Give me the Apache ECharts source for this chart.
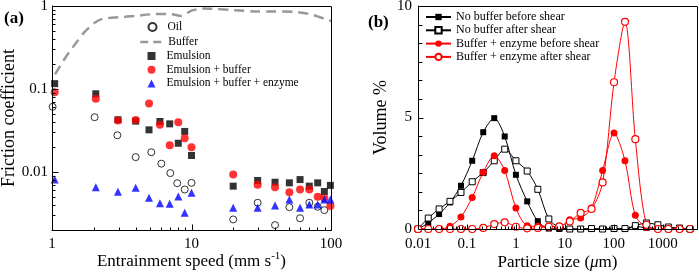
<!DOCTYPE html>
<html>
<head>
<meta charset="utf-8">
<script src="https://cdn.jsdelivr.net/npm/echarts@6/dist/echarts.min.js"></script>
<style>
html,body{margin:0;padding:0;background:#fff;}
#main{width:699px;height:273px;}
</style>
</head>
<body>
<div id="main"></div>
<script>
// (a) friction coefficient vs entrainment speed
var oilSpeed = [1.01, 2.02, 2.94, 3.98, 5.15, 6.08, 7.05, 7.9, 8.94, 10, 19.9, 29.8, 39.7, 50.3, 60, 69.9, 80.3, 89.6];
var oilMu = [0.061, 0.0457, 0.0277, 0.0151, 0.0173, 0.0126, 0.0097, 0.00733, 0.00615, 0.0074, 0.00268, 0.00426, 0.00229, 0.00377, 0.00277, 0.00426, 0.00381, 0.00347];
var bufferSpeed = [1.05, 1.25, 1.45, 1.7, 2.0, 2.3, 3.0, 4.0, 5.5, 7.0, 8.5, 10, 12, 15, 20, 30, 40, 55, 70, 80, 90, 100];
var bufferMu = [0.15, 0.24, 0.34, 0.48, 0.62, 0.7, 0.73, 0.76, 0.8, 0.8, 0.76, 0.88, 0.93, 0.92, 0.89, 0.86, 0.86, 0.85, 0.8, 0.75, 0.7, 0.66];
var speed = [1.045, 2.06, 2.97, 3.98, 4.96, 5.94, 6.98, 8.04, 8.94, 10, 19.9, 29.8, 39.7, 50.3, 60, 69.9, 80.3, 89.6, 99];
var emulsionMu = [0.116, 0.0875, 0.0426, 0.041, 0.0322, 0.0406, 0.038, 0.0222, 0.0308, 0.0158, 0.00675, 0.0079, 0.00753, 0.0074, 0.0081, 0.00675, 0.0074, 0.00582, 0.0069];
var emulsionBufferMu = [0.0915, 0.0762, 0.0417, 0.0424, 0.0669, 0.037, 0.021, 0.0398, 0.0255, 0.0199, 0.00933, 0.00701, 0.00656, 0.00571, 0.00615, 0.00615, 0.00503, 0.00483, 0.0039];
var enzymeMu = [0.0081, 0.00656, 0.00577, 0.00645, 0.00489, 0.00421, 0.00414, 0.00507, 0.00322, 0.00561, 0.0037, 0.0037, 0.00395, 0.00467, 0.0037, 0.00406, 0.00406, 0.00467, 0.00467];

// (b) particle size distribution
var sizeX = [0.01, 0.0162, 0.027, 0.045, 0.0755, 0.128, 0.215, 0.361, 0.59, 1.0, 1.7, 2.8, 4.7, 7.7, 12.6, 21, 35, 59, 101, 169, 275, 464, 795, 1300, 2200, 3600];
var noBufBefore = [0, 0.27, 0.67, 1.19, 1.94, 3.06, 4.34, 4.97, 4.15, 2.43, 1.24, 0.35, 0.02, 0, 0, 0, 0, 0, 0, 0, 0.12, 0.05, 0.03, 0, 0.05, 0];
var noBufAfter = [0, 0.49, 0.9, 1.24, 1.64, 2.12, 2.53, 3.06, 3.58, 3.06, 2.6, 1.78, 0.45, 0.07, 0, 0, 0.02, 0, 0.02, 0.02, 0.15, 0.27, 0.19, 0.09, 0.04, 0];
var bufEnzBefore = [0, 0.02, 0, 0.12, 0.54, 1.41, 2.55, 3.28, 2.62, 0.94, 0.15, 0.12, 0.13, 0.1, 0.42, 0.49, 0.94, 2.62, 4.3, 3.06, 0.62, 0.07, 0, 0, 0, 0];
var bufEnzAfter = [0, 0, 0, 0, 0, 0, 0.05, 0.22, 0.3, 0.1, 0.03, 0.05, 0.1, 0.12, 0.34, 0.72, 0.9, 2.09, 6.58, 9.29, 4.03, 0.19, 0, 0, 0, 0];

// axis ranges and tick values
var aXRange = [1, 100];
var aYRange = [0.002, 1];
var bXRange = [0.01, 5000];
var bYRange = [0, 10];
var aXTicks = [1, 10, 100];
var aXMinor = [2, 3, 4, 5, 6, 7, 8, 9, 20, 30, 40, 50, 60, 70, 80, 90];
var aYTicks = [0.01, 0.1, 1];
var aYMinor = [0.002, 0.003, 0.004, 0.005, 0.006, 0.007, 0.008, 0.009, 0.02, 0.03, 0.04, 0.05, 0.06, 0.07, 0.08, 0.09, 0.2, 0.3, 0.4, 0.5, 0.6, 0.7, 0.8, 0.9];
var bXTicks = [0.01, 0.1, 1, 10, 100, 1000];
var bXMinor = [0.02, 0.03, 0.04, 0.05, 0.06, 0.07, 0.08, 0.09, 0.2, 0.3, 0.4, 0.5, 0.6, 0.7, 0.8, 0.9, 2, 3, 4, 5, 6, 7, 8, 9, 20, 30, 40, 50, 60, 70, 80, 90, 200, 300, 400, 500, 600, 700, 800, 900, 2000, 3000, 4000];
var bYTicks = [0, 5, 10];
var bYMinor = [0.833, 1.667, 2.5, 3.333, 4.167, 5.833, 6.667, 7.5, 8.333, 9.167];

var FONT = '"Liberation Serif", "Times New Roman", serif';

function pairs(xs, ys) {
    var out = [];
    for (var i = 0; i < xs.length; i++) {
        out.push([xs[i], ys[i]]);
    }
    return out;
}

function plainNum(v) {
    return String(+v.toPrecision(6));
}

function labelAxis(type, grid, range, ticks, margin, extra) {
    var ax = {
        type: type,
        gridIndex: grid,
        min: range[0],
        max: range[1],
        nameMoveOverlap: false,
        axisLine: {show: true, lineStyle: {color: '#000', width: 1}},
        axisTick: {show: false},
        axisLabel: {customValues: ticks, color: '#000', fontFamily: FONT, fontSize: 15, margin: margin, formatter: plainNum},
        splitLine: {show: false}
    };
    if (type === 'log') ax.logBase = 10;
    for (var k in extra) ax[k] = extra[k];
    return ax;
}

var panelLabels = [
    {type: 'text', left: 4, top: 10, style: {text: '(a)', fontSize: 17, fontWeight: 'bold', fontFamily: FONT, fill: '#000'}},
    {type: 'text', left: 368, top: 14, style: {text: '(b)', fontSize: 17, fontWeight: 'bold', fontFamily: FONT, fill: '#000'}}
];

var dom = document.getElementById('main');
var myChart = echarts.init(dom, null, {renderer: 'canvas'});

var option = {
    animation: false,
    backgroundColor: '#fff',
    textStyle: {fontFamily: FONT},
    grid: [
        {left: 52, top: 6, width: 279, height: 224, outerBoundsMode: 'none', containLabel: false},
        {left: 418, top: 6, width: 279, height: 223, outerBoundsMode: 'none', containLabel: false}
    ],
    graphic: panelLabels,
    legend: [
        {
            orient: 'vertical', left: 147.5, top: 21, padding: 0,
            itemWidth: 8, itemHeight: 8,
            textStyle: {fontFamily: FONT, fontSize: 11.5, color: '#000', padding: [0, 0, 0, 6]},
            data: ['Oil']
        },
        {
            orient: 'vertical', left: 139, top: 36, padding: 0,
            itemWidth: 25, itemHeight: 8,
            textStyle: {fontFamily: FONT, fontSize: 11.5, color: '#000', padding: [0, 0, 0, -2]},
            data: [{name: 'Buffer', itemStyle: {opacity: 0}, lineStyle: {color: '#999', width: 2.5, type: [8, 5]}}]
        },
        {
            orient: 'vertical', left: 147.5, top: 50, padding: 0,
            itemWidth: 8, itemHeight: 8, itemGap: 1.7,
            textStyle: {fontFamily: FONT, fontSize: 11.5, color: '#000', padding: [0, 0, 0, 6]},
            data: ['Emulsion', 'Emulsion + buffer', 'Emulsion + buffer + enzyme']
        },
        {
            orient: 'vertical', left: 425, top: 11, padding: 0,
            itemWidth: 25, itemHeight: 8, itemGap: 1.3,
            textStyle: {fontFamily: FONT, fontSize: 12, color: '#000'},
            data: ['No buffer before shear', 'No buffer after shear', 'Buffer + enzyme before shear', 'Buffer + enzyme after shear']
        }
    ],
    xAxis: [
        labelAxis('log', 0, aXRange, aXTicks, 7, {
            position: 'bottom',
            name: 'Entrainment speed (mm s{sup|-1})',
            nameLocation: 'middle',
            nameGap: 21,
            nameTextStyle: {fontFamily: FONT, fontSize: 17, color: '#000', lineHeight: 22,
                rich: {sup: {fontFamily: FONT, fontSize: 11, lineHeight: 12, verticalAlign: 'top', color: '#000'}}}
        }),
        labelAxis('log', 1, bXRange, bXTicks, 8, {
            position: 'bottom',
            name: 'Particle size ({it|μ}m)',
            nameLocation: 'middle',
            nameGap: 25,
            nameTextStyle: {fontFamily: FONT, fontSize: 17, color: '#000',
                rich: {it: {fontFamily: FONT, fontSize: 17, fontStyle: 'italic', color: '#000'}}}
        })
    ],
    yAxis: [
        labelAxis('log', 0, aYRange, aYTicks, 4, {
            position: 'left',
            name: 'Friction coefficient',
            nameLocation: 'middle',
            nameGap: 34,
            nameTextStyle: {fontFamily: FONT, fontSize: 18, color: '#000'}
        }),
        labelAxis('value', 1, bYRange, bYTicks, 6, {
            position: 'left',
            interval: 5,
            name: 'Volume %',
            nameLocation: 'middle',
            nameGap: 28,
            nameTextStyle: {fontFamily: FONT, fontSize: 18, color: '#000'}
        })
    ],
    series: [
        {
            name: 'Oil', type: 'scatter', xAxisIndex: 0, yAxisIndex: 0,
            symbol: 'circle', symbolSize: 7,
            itemStyle: {color: '#fff', borderColor: '#000', borderWidth: 1},
            data: pairs(oilSpeed, oilMu)
        },
        {
            name: 'Buffer', type: 'line', xAxisIndex: 0, yAxisIndex: 0,
            symbol: 'none', smooth: 0.2,
            itemStyle: {color: '#999'},
            lineStyle: {color: '#999', width: 2.5, type: [10, 6]},
            data: pairs(bufferSpeed, bufferMu)
        },
        {
            name: 'Emulsion', type: 'scatter', xAxisIndex: 0, yAxisIndex: 0,
            symbol: 'rect', symbolSize: 7,
            itemStyle: {color: '#000'},
            data: pairs(speed, emulsionMu)
        },
        {
            name: 'Emulsion + buffer', type: 'scatter', xAxisIndex: 0, yAxisIndex: 0,
            symbol: 'circle', symbolSize: 8,
            itemStyle: {color: '#f00'},
            data: pairs(speed, emulsionBufferMu)
        },
        {
            name: 'Emulsion + buffer + enzyme', type: 'scatter', xAxisIndex: 0, yAxisIndex: 0,
            symbol: 'triangle', symbolSize: 8,
            itemStyle: {color: '#00f'},
            data: pairs(speed, enzymeMu)
        },
        {
            name: 'No buffer before shear', type: 'line', xAxisIndex: 1, yAxisIndex: 1,
            symbol: 'rect', symbolSize: 6, showAllSymbol: true, smooth: 0.3,
            itemStyle: {color: '#000'},
            lineStyle: {color: '#000', width: 1},
            data: pairs(sizeX, noBufBefore)
        },
        {
            name: 'No buffer after shear', type: 'line', xAxisIndex: 1, yAxisIndex: 1,
            symbol: 'rect', symbolSize: 6, showAllSymbol: true, smooth: 0.3,
            itemStyle: {color: '#fff', borderColor: '#000', borderWidth: 1},
            lineStyle: {color: '#000', width: 1},
            data: pairs(sizeX, noBufAfter)
        },
        {
            name: 'Buffer + enzyme before shear', type: 'line', xAxisIndex: 1, yAxisIndex: 1,
            symbol: 'circle', symbolSize: 7, showAllSymbol: true, smooth: 0.3,
            itemStyle: {color: '#f00'},
            lineStyle: {color: '#f00', width: 1},
            data: pairs(sizeX, bufEnzBefore)
        },
        {
            name: 'Buffer + enzyme after shear', type: 'line', xAxisIndex: 1, yAxisIndex: 1,
            symbol: 'circle', symbolSize: 7, showAllSymbol: true, smooth: 0.3,
            itemStyle: {color: '#fff', borderColor: '#f00', borderWidth: 1.2},
            lineStyle: {color: '#f00', width: 1},
            data: pairs(sizeX, bufEnzAfter)
        }
    ]
};

myChart.setOption(option);

// frame and inward ticks, placed through the chart's own axis scales
function frameAndTicks(gridIndex, xr, yr, xMajor, xMinor, yMajor, yMinor, lens) {
    var els = [];
    var pen = {stroke: '#000', lineWidth: 1, fill: null};
    function px(v) { return Math.round(v) + 0.5; }
    var lo = myChart.convertToPixel({gridIndex: gridIndex}, [xr[0], yr[0]]);
    var hi = myChart.convertToPixel({gridIndex: gridIndex}, [xr[1], yr[1]]);
    els.push({type: 'rect', z: 100, silent: true,
        shape: {x: px(lo[0]), y: px(hi[1]), width: px(hi[0]) - px(lo[0]), height: px(lo[1]) - px(hi[1])},
        style: pen});
    function xt(v, len) {
        var p = myChart.convertToPixel({gridIndex: gridIndex}, [v, yr[0]]);
        els.push({type: 'line', z: 100, silent: true, shape: {x1: px(p[0]), y1: px(p[1]), x2: px(p[0]), y2: px(p[1]) - len}, style: pen});
    }
    function yt(v, len) {
        var p = myChart.convertToPixel({gridIndex: gridIndex}, [xr[0], v]);
        els.push({type: 'line', z: 100, silent: true, shape: {x1: px(p[0]), y1: px(p[1]), x2: px(p[0]) + len, y2: px(p[1])}, style: pen});
    }
    xMajor.forEach(function (v) { xt(v, lens[0]); });
    xMinor.forEach(function (v) { xt(v, lens[1]); });
    yMajor.forEach(function (v) { yt(v, lens[2]); });
    yMinor.forEach(function (v) { yt(v, lens[3]); });
    return els;
}

var decor = panelLabels
    .concat(frameAndTicks(0, aXRange, aYRange, aXTicks, aXMinor, aYTicks, aYMinor, [6, 3, 6, 3]))
    .concat(frameAndTicks(1, bXRange, bYRange, bXTicks, bXMinor, bYTicks, bYMinor, [5, 3, 5, 4]));

myChart.setOption({graphic: decor});
</script>
</body>
</html>
